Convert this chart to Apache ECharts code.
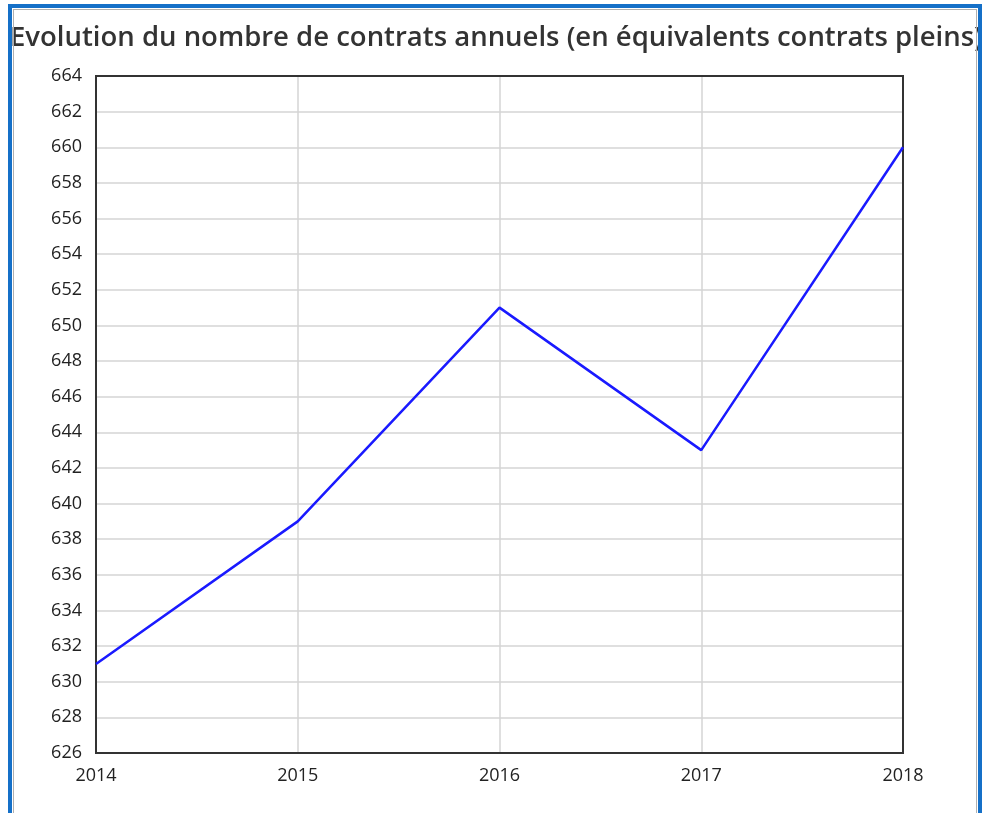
<!DOCTYPE html>
<html>
<head>
<meta charset="utf-8">
<script src="https://cdn.jsdelivr.net/npm/echarts@6/dist/echarts.min.js"></script>
<style>
  html, body { margin: 0; padding: 0; background: #fff; }
  #frame {
    position: absolute; left: 8px; top: 4px; width: 966px; height: 820px;
    border: 4px solid #1570c8; border-bottom: none; z-index: 3;
  }
  #inner {
    position: absolute; left: 13px; top: 9px; width: 962px; height: 810px;
    border-left: 1px solid #b0b0b0; border-top: 1px solid #b0b0b0; border-right: 1px solid #b0b0b0;
    z-index: 2;
  }
  #chart { position: absolute; left: 0; top: 0; width: 984px; height: 813px; z-index: 1; }
</style>
</head>
<body>
<div id="frame"></div>
<div id="inner"></div>
<div id="chart"></div>
<script>
// Données
const years = ['2014', '2015', '2016', '2017', '2018'];
const contrats = [631, 639, 651, 643, 660];
const titre = 'Evolution du nombre de contrats annuels (en équivalents contrats pleins)';

const chart = echarts.init(document.getElementById('chart'), null, { renderer: 'canvas' });

chart.setOption({
    backgroundColor: 'transparent',
    animation: false,
    textStyle: { fontFamily: 'Open Sans' },
    title: {
        text: titre,
        left: 10,
        top: 24,
        padding: 0,
        textStyle: { color: '#333', fontSize: 27.5, fontWeight: 600, fontFamily: 'Open Sans' }
    },
    grid: {
        left: 96, right: 81, top: 76, bottom: 60,
        containLabel: false,
        show: true,
        borderColor: '#333',
        borderWidth: 2,
        backgroundColor: 'transparent',
        z: 3
    },
    xAxis: {
        type: 'category',
        data: years,
        boundaryGap: false,
        axisLine: { show: true, lineStyle: { color: '#333', width: 2 } },
        axisTick: { show: false },
        axisLabel: { color: '#222', fontSize: 18, margin: 14 },
        splitLine: { show: true, showMinLine: false, showMaxLine: false, lineStyle: { color: '#d4d4d4', width: 1.5 } }
    },
    yAxis: {
        type: 'value',
        min: 626,
        max: 664,
        interval: 2,
        axisLine: { show: true, lineStyle: { color: '#333', width: 2 } },
        axisTick: { show: false },
        axisLabel: { color: '#222', fontSize: 18, margin: 14 },
        splitLine: { show: true, showMinLine: false, showMaxLine: false, lineStyle: { color: '#d4d4d4', width: 1.5 } }
    },
    series: [{
        type: 'line',
        data: contrats,
        showSymbol: false,
        symbol: 'none',
        lineStyle: { color: '#1a1aff', width: 2.5 },
        z: 5
    }]
});
</script>
</body>
</html>
